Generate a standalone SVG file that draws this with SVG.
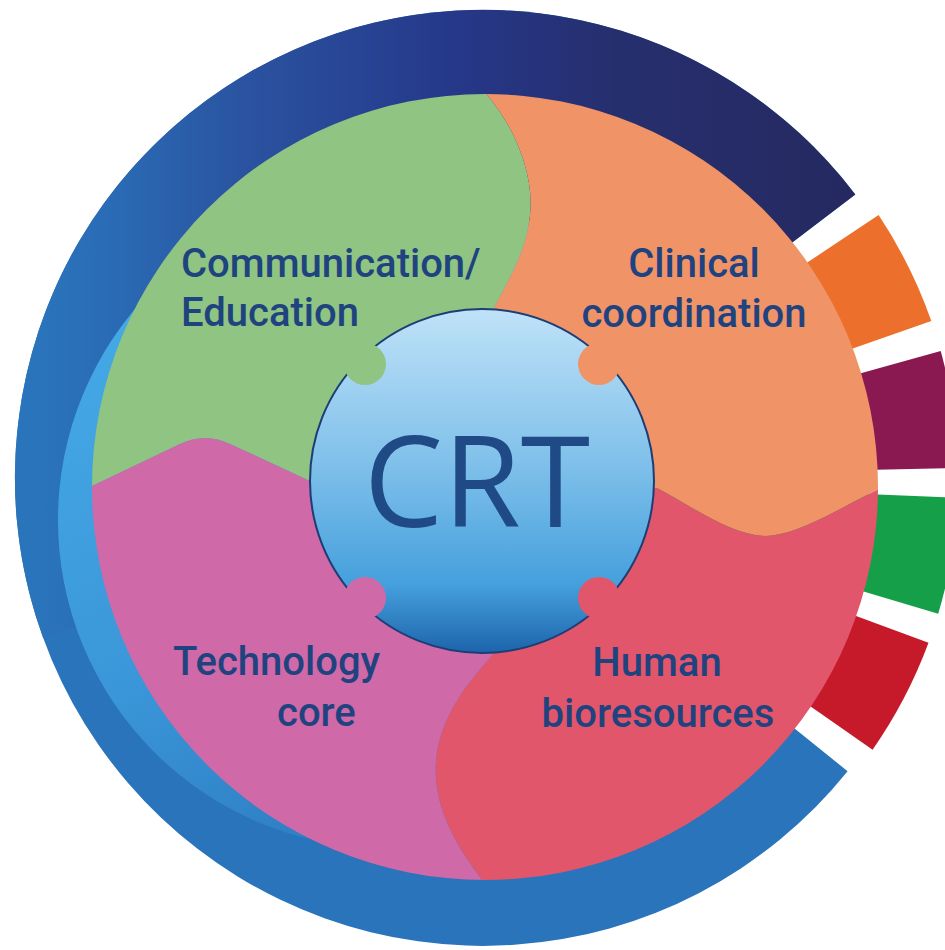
<svg xmlns="http://www.w3.org/2000/svg" width="945" height="950" viewBox="0 0 945 950">
  <defs>
    <linearGradient id="ringTop" gradientUnits="userSpaceOnUse" x1="860" y1="0" x2="40" y2="0">
      <stop offset="0" stop-color="#262960"/>
      <stop offset="0.3" stop-color="#262f6e"/>
      <stop offset="0.5" stop-color="#26388a"/>
      <stop offset="0.75" stop-color="#2a53a0"/>
      <stop offset="0.92" stop-color="#2a6cb6"/>
      <stop offset="1" stop-color="#2a74bb"/>
    </linearGradient>
    <linearGradient id="lightBand" gradientUnits="userSpaceOnUse" x1="100" y1="320" x2="330" y2="860">
      <stop offset="0" stop-color="#45a9e6"/>
      <stop offset="0.6" stop-color="#3a96d8"/>
      <stop offset="1" stop-color="#2d7cc2"/>
    </linearGradient>
    <linearGradient id="crtFill" x1="0" y1="0" x2="0" y2="1">
      <stop offset="0" stop-color="#bfe2f8"/>
      <stop offset="0.45" stop-color="#7fc0ea"/>
      <stop offset="0.8" stop-color="#45a0dc"/>
      <stop offset="1" stop-color="#1d64ab"/>
    </linearGradient>
    <clipPath id="ringClip">
      <path d="M 483 478 L 847.6 771.2 A 468 468 0 1 1 855.3 194.4 Z"/>
    </clipPath>
    <clipPath id="discClip">
      <circle cx="485" cy="487" r="393"/>
    </clipPath>
    <style>
      .lbl { font-family: Roboto, "Liberation Sans", sans-serif; font-weight: 500; font-size: 40px; fill: #1f437f; }
      .crt { font-family: "Open Sans", "Liberation Sans", sans-serif; font-weight: 400; font-size: 126px; fill: #1f4a86; }
    </style>
  </defs>

  <g id="outer-ring">
    <path d="M 483 478 L 847.6 771.2 A 468 468 0 1 1 855.3 194.4 Z" fill="#2a74bb"/>
    <path d="M 483 478 L 43.2 638.1 A 468 468 0 0 1 855.3 194.4 Z" fill="url(#ringTop)"/>
    <circle cx="386" cy="520" r="328" fill="url(#lightBand)" clip-path="url(#ringClip)"/>
  </g>

  <g id="tabs">
    <path d="M 483 478 L 878.6 215.1 A 475 475 0 0 1 931.3 321.0 Z" fill="#ec6f2c"/>
    <path d="M 483 478 L 940.7 351.1 A 475 475 0 0 1 957.9 468.1 Z" fill="#8a1952"/>
    <path d="M 483 478 L 957.6 497.9 A 475 475 0 0 1 938.2 613.7 Z" fill="#169f49"/>
    <path d="M 483 478 L 928.5 642.8 A 475 475 0 0 1 872.6 749.7 Z" fill="#c61a2b"/>
  </g>

  <g id="quadrants" clip-path="url(#discClip)">
    <g id="communication-education">
      <path d="M 0 0 L 485 0 L 485 93 C 510 120 535 170 530 215 C 526 255 505 285 492 312 L 482 482 L 312 482 L 230 444 Q 205 432 180 444 L 40 511 L 0 511 Z" fill="#8fc482"/>
    </g>
    <g id="clinical-coordination">
      <path d="M 485 0 L 485 93 C 510 120 535 170 530 215 C 526 255 505 285 492 312 L 482 482 L 657 488 C 690 505 730 535 765 536 C 800 535 845 505 877 490 L 945 480 L 945 0 Z" fill="#f09468"/>
    </g>
    <g id="human-bioresources">
      <path d="M 945 480 L 877 490 C 845 505 800 535 765 536 C 730 535 690 505 657 488 L 482 482 L 495 652 C 470 680 440 715 436 760 C 432 810 460 850 482 880 L 482 950 L 945 950 Z" fill="#e2566b"/>
    </g>
    <g id="technology-core">
      <path d="M 0 511 L 40 511 L 180 444 Q 205 432 230 444 L 312 482 L 482 482 L 495 652 C 470 680 440 715 436 760 C 432 810 460 850 482 880 L 482 950 L 0 950 Z" fill="#cf69a8"/>
    </g>
  </g>

  <g id="crt">
    <circle cx="482" cy="481" r="172" fill="url(#crtFill)" stroke="#1d3d75" stroke-width="2"/>
    <circle cx="365" cy="364" r="21" fill="#8fc482"/>
    <circle cx="599" cy="364" r="21" fill="#f09468"/>
    <circle cx="365" cy="598" r="21" fill="#cf69a8"/>
    <circle cx="599" cy="598" r="21" fill="#e2566b"/>
    <text class="crt" x="477" y="527" text-anchor="middle">CRT</text>
  </g>

  <g id="labels">
    <text class="lbl" x="181" y="277">Communication/</text>
    <text class="lbl" x="181" y="326">Education</text>
    <text class="lbl" x="694" y="277" text-anchor="middle">Clinical</text>
    <text class="lbl" x="694" y="327" text-anchor="middle">coordination</text>
    <text class="lbl" x="173" y="675">Technology</text>
    <text class="lbl" x="277" y="726">core</text>
    <text class="lbl" x="657" y="676" text-anchor="middle">Human</text>
    <text class="lbl" x="658" y="727" text-anchor="middle">bioresources</text>
  </g>
</svg>
